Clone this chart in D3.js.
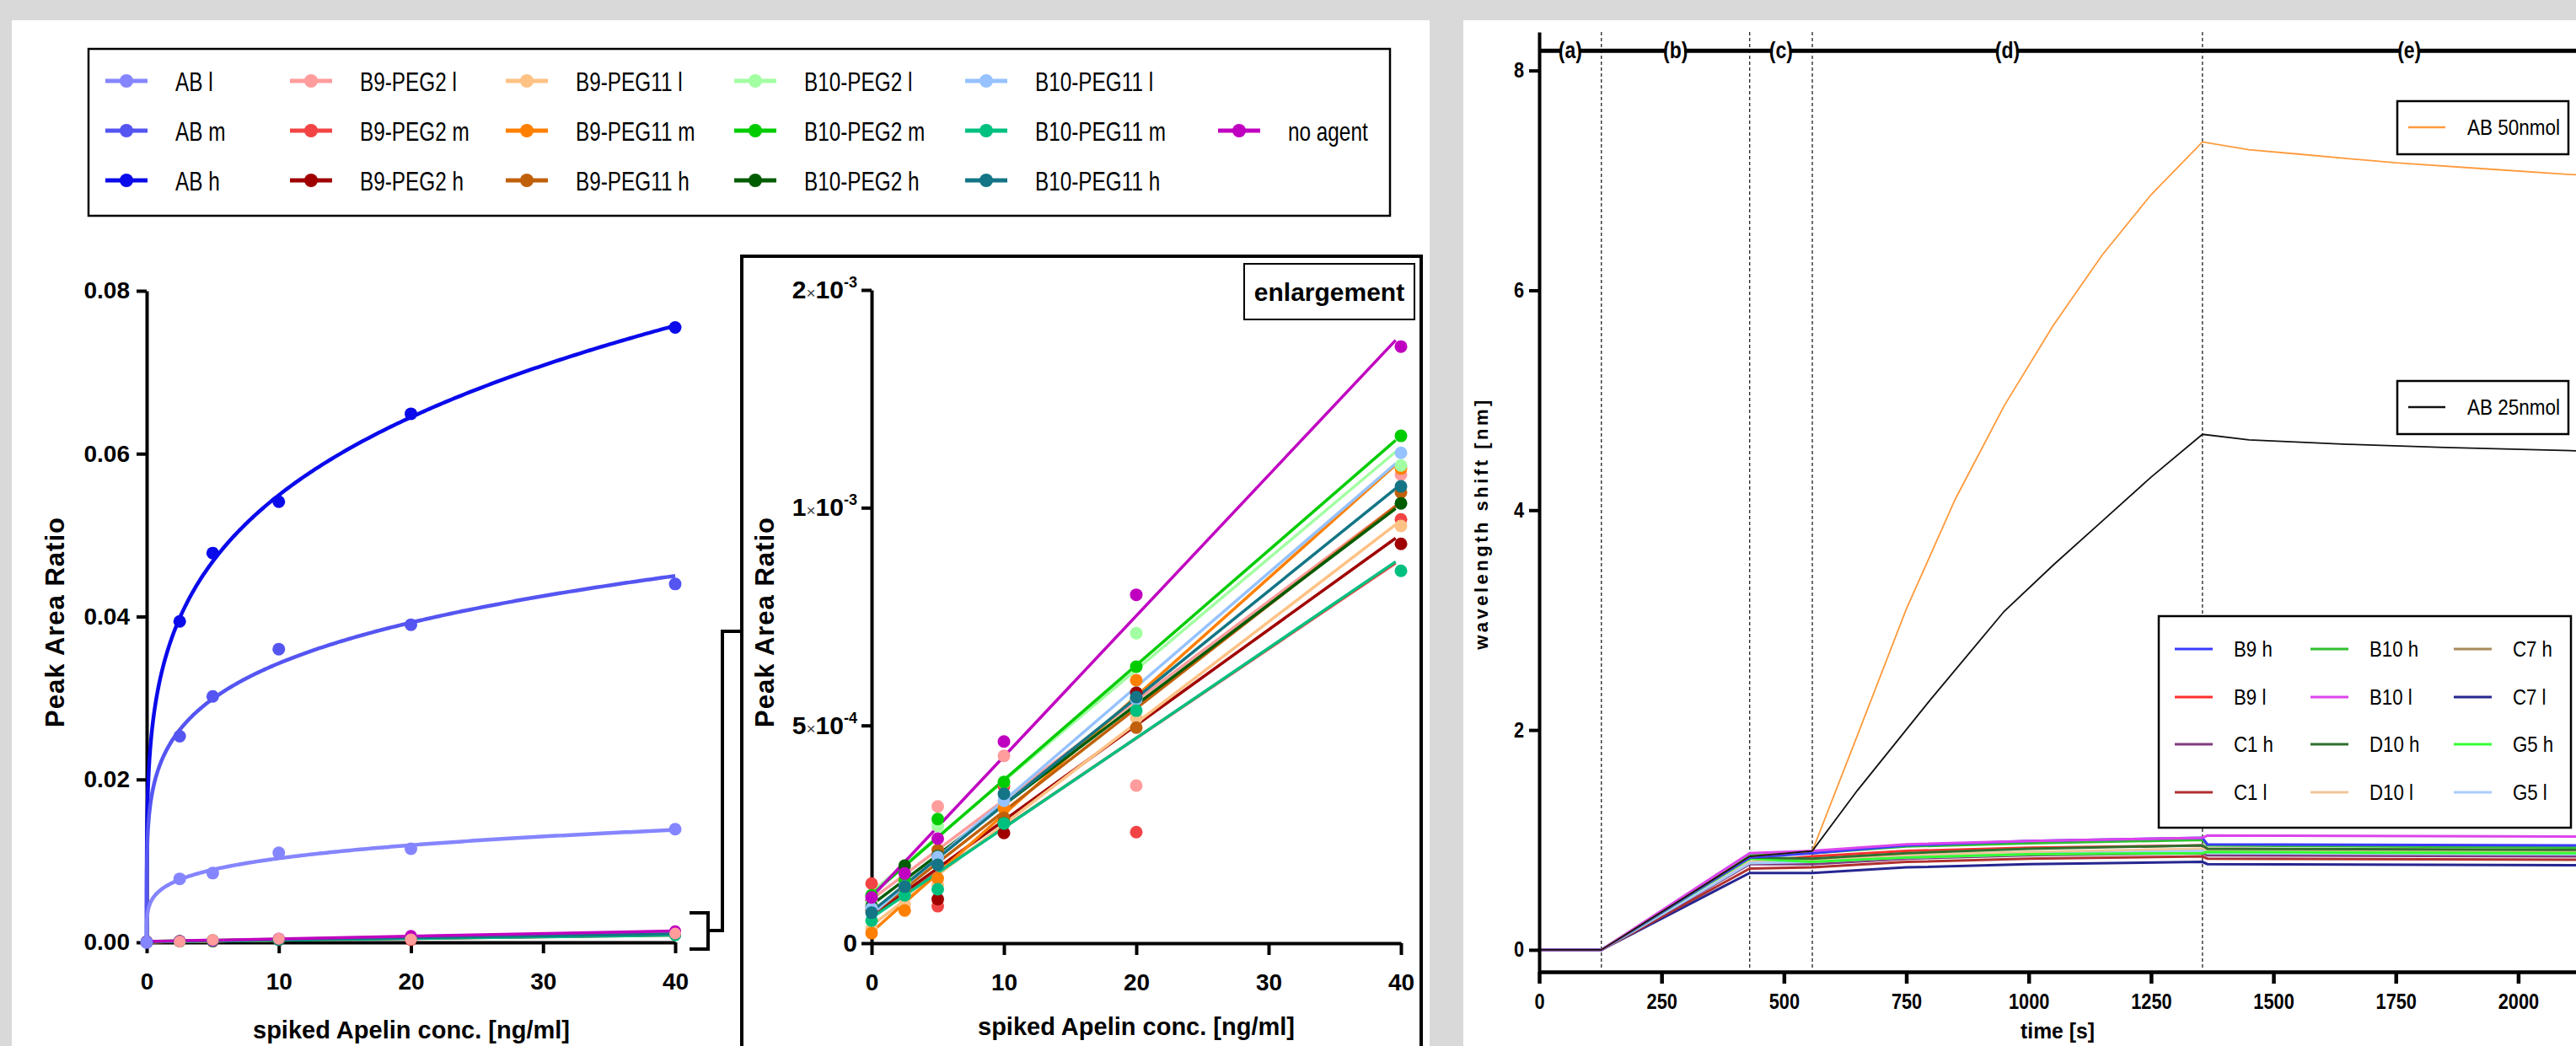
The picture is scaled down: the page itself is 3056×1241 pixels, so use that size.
<!DOCTYPE html>
<html>
<head>
<meta charset="utf-8">
<script src="https://cdn.jsdelivr.net/npm/d3@7"></script>
<style>
body { margin: 0; background: #d9d9d9; }
svg { display: block; font-family: "Liberation Sans", Arial, sans-serif; }
</style>
</head>
<body>
<div id="graph"></div>
<script>
// ---------- data: left panel ----------
const conc = [0, 2.5, 5, 10, 20, 40];

// Peak Area Ratio, AB standards
const abL = [0, 0.0078, 0.0085, 0.0110, 0.0115, 0.0139];
const abM = [0, 0.0253, 0.0302, 0.0360, 0.0390, 0.0440];
const abH = [0, 0.0394, 0.0478, 0.0541, 0.0649, 0.0755];

// Peak Area Ratio x 1e-4 (enlargement series)
const b9peg2L = [0.79, 1.10, 3.14, 4.30, 3.62, 10.76];
const b9peg2M = [1.37, 1.43, 0.85, 3.60, 2.55, 9.73];
const b9peg2H = [0.98, 1.30, 1.01, 2.53, 5.75, 9.17];
const b9peg11L = [0.33, 0.89, 1.35, 3.13, 5.17, 9.58];
const b9peg11M = [0.23, 0.75, 1.49, 3.10, 6.04, 10.90];
const b9peg11H = [0.75, 1.25, 2.14, 2.88, 4.95, 10.35];
const b10peg2L = [0.95, 1.40, 2.69, 3.69, 7.12, 10.97];
const b10peg2M = [1.10, 1.45, 2.85, 3.70, 6.35, 11.65];
const b10peg2H = [0.85, 1.78, 2.00, 2.75, 5.60, 10.10];
const b10peg11L = [0.80, 1.30, 1.98, 3.27, 5.60, 11.26];
const b10peg11M = [0.52, 1.10, 1.24, 2.75, 5.34, 8.55];
const b10peg11H = [0.70, 1.30, 1.80, 3.43, 5.65, 10.49];
const noAgent = [1.05, 1.60, 2.40, 4.63, 8.00, 13.70];

const seriesNames = ["AB l", "AB m", "AB h",
    "B9-PEG2 l", "B9-PEG2 m", "B9-PEG2 h",
    "B9-PEG11 l", "B9-PEG11 m", "B9-PEG11 h",
    "B10-PEG2 l", "B10-PEG2 m", "B10-PEG2 h",
    "B10-PEG11 l", "B10-PEG11 m", "B10-PEG11 h",
    "no agent"];
const seriesColors = ["#8585ff", "#5555f2", "#0a0aeb",
    "#ff9c9c", "#f24444", "#a00000",
    "#ffc285", "#ff8000", "#c0600a",
    "#a2ffa2", "#00cc00", "#005c00",
    "#96c2ff", "#00c080", "#137585",
    "#c000c0"];

const mainTicksY = [0, 0.02, 0.04, 0.06, 0.08];
const concTicks = [0, 10, 20, 30, 40];
const enlTicksY = [0, 0.0005, 0.001, 0.0015];
const enlTickLabels = ["0", "5×10^-4", "1×10^-3", "2×10^-3"];

// ---------- data: right panel ----------
const phaseTimes = [0, 127, 430, 558, 1355, 2200];
const phaseLabels = ["(a)", "(b)", "(c)", "(d)", "(e)"];
const timeTicks = [0, 250, 500, 750, 1000, 1250, 1500, 1750, 2000];
const shiftTicks = [0, 2, 4, 6, 8];

const traceTimes = [0, 127, 430, 558, 750, 1000, 1355, 1365, 2120];
const b9h = [0, 0, 0.84, 0.88, 0.95, 0.99, 1.02, 0.96, 0.95];
const b9l = [0, 0, 0.80, 0.85, 0.90, 0.93, 0.95, 0.92, 0.90];
const c1h = [0, 0, 0.78, 0.78, 0.83, 0.86, 0.88, 0.86, 0.85];
const c1l = [0, 0, 0.74, 0.75, 0.80, 0.83, 0.85, 0.83, 0.82];
const b10h = [0, 0, 0.86, 0.88, 0.94, 0.97, 1.00, 0.95, 0.93];
const b10l = [0, 0, 0.88, 0.90, 0.96, 0.99, 1.02, 1.04, 1.03];
const d10h = [0, 0, 0.84, 0.83, 0.88, 0.92, 0.95, 0.92, 0.91];
const d10l = [0, 0, 0.80, 0.82, 0.86, 0.89, 0.92, 0.90, 0.89];
const c7h = [0, 0, 0.80, 0.80, 0.85, 0.88, 0.90, 0.88, 0.87];
const c7l = [0, 0, 0.70, 0.70, 0.75, 0.78, 0.80, 0.78, 0.77];
const g5h = [0, 0, 0.83, 0.80, 0.84, 0.87, 0.88, 0.89, 0.88];
const g5l = [0, 0, 0.79, 0.80, 0.84, 0.87, 0.90, 0.88, 0.87];

const traceNames = ["B9 h", "B9 l", "C1 h", "C1 l", "B10 h", "B10 l", "D10 h", "D10 l", "C7 h", "C7 l", "G5 h", "G5 l"];
const traceColors = ["#3a3aff", "#ff3030", "#803a80", "#b03030", "#30c030", "#dc44ec", "#2f6f2f", "#f2c698", "#a88a5c", "#262690", "#33ff33", "#a8ccff"];

const ab50Times = [0, 127, 430, 558, 650, 750, 850, 950, 1050, 1150, 1250, 1355, 1450, 1550, 1750, 1950, 2120];
const ab50 = [0, 0, 0.85, 0.90, 1.95, 3.10, 4.10, 4.95, 5.68, 6.32, 6.87, 7.35, 7.28, 7.24, 7.16, 7.10, 7.05];
const ab25Times = [0, 127, 430, 558, 650, 800, 950, 1050, 1150, 1250, 1355, 1450, 1650, 1850, 2120];
const ab25 = [0, 0, 0.85, 0.90, 1.45, 2.28, 3.08, 3.50, 3.90, 4.30, 4.69, 4.64, 4.60, 4.57, 4.54];

// ---------- helpers ----------
function squeeze(sel, f) {
    sel.each(function() {
        let w = this.getComputedTextLength();
        d3.select(this).attr("textLength", w * f).attr("lengthAdjust", "spacingAndGlyphs");
    });
}

function linFit(xs, ys) {
    let mx = d3.mean(xs), my = d3.mean(ys);
    let sxy = d3.sum(xs, (x, i) => (x - mx) * (ys[i] - my));
    let sxx = d3.sum(xs, x => (x - mx) * (x - mx));
    let b = sxy / sxx;
    return { a: my - b * mx, b: b };
}

// y = a * x^b, fitted on log-log
function powerFit(xs, ys) {
    let lx = [], ly = [];
    xs.forEach((x, i) => { if (x > 0 && ys[i] > 0) { lx.push(Math.log(x)); ly.push(Math.log(ys[i])); } });
    let f = linFit(lx, ly);
    return { a: Math.exp(f.a), b: f.b };
}

function styleAxis(g, size, weight, width) {
    g.attr("font-family", null).attr("font-size", null);
    g.select(".domain").attr("stroke", "#000").attr("stroke-width", width);
    g.selectAll(".tick line").attr("stroke", "#000").attr("stroke-width", width);
    g.selectAll(".tick text").attr("font-size", size).attr("font-weight", weight).attr("fill", "#000");
}

let series = seriesNames.map((name, i) => ({
    name: name,
    color: seriesColors[i],
    values: i < 3 ? [abL, abM, abH][i] : [b9peg2L, b9peg2M, b9peg2H, b9peg11L, b9peg11M, b9peg11H,
        b10peg2L, b10peg2M, b10peg2H, b10peg11L, b10peg11M, b10peg11H, noAgent][i - 3].map(v => v * 1e-4)
}));
let abSeries = series.slice(0, 3);
let smallSeries = series.slice(3);

// ---------- svg ----------
let svg = d3.select("#graph")
    .append("svg")
    .attr("width", 3056)
    .attr("height", 1241);

svg.append("rect").attr("x", 14).attr("y", 24).attr("width", 1682).attr("height", 1217).attr("fill", "#fff");
svg.append("rect").attr("x", 1736).attr("y", 24).attr("width", 1320).attr("height", 1217).attr("fill", "#fff");

// ---------- left legend ----------
let legend = svg.append("g");
legend.append("rect")
    .attr("x", 105).attr("y", 58).attr("width", 1544).attr("height", 198)
    .attr("fill", "none").attr("stroke", "#000").attr("stroke-width", 2.5);

const legColX = [150, 369, 625, 896, 1170, 1470];
const legRowY = [96, 155, 214];

let legItems = legend.selectAll("g.item")
    .data(series)
    .enter()
    .append("g")
    .attr("class", "item")
    .attr("transform", (d, i) => {
        let col = i < 15 ? Math.floor(i / 3) : 5;
        let row = i < 15 ? i % 3 : 1;
        return `translate(${legColX[col]}, ${legRowY[row]})`;
    });

legItems.append("line")
    .attr("x1", -25).attr("x2", 25)
    .attr("stroke", d => d.color).attr("stroke-width", 5);
legItems.append("circle")
    .attr("r", 8).attr("fill", d => d.color);
legItems.append("text")
    .attr("x", 58).attr("y", 12)
    .style("font-size", "32px")
    .text(d => d.name)
    .call(squeeze, 0.76);

// ---------- main plot ----------
let xMain = d3.scaleLinear().domain([0, 40]).range([174, 801]);
let yMain = d3.scaleLinear().domain([0, 0.08]).range([1118, 345]);

let mainX = svg.append("g")
    .attr("transform", `translate(0, ${yMain(0)})`)
    .call(d3.axisBottom(xMain).tickValues(concTicks).tickSize(13).tickSizeOuter(0).tickPadding(23));
styleAxis(mainX, 28, "bold", 4);

let mainY = svg.append("g")
    .attr("transform", `translate(${xMain(0)}, 0)`)
    .call(d3.axisLeft(yMain).tickValues(mainTicksY).tickFormat(d3.format(".2f")).tickSize(12).tickSizeOuter(0).tickPadding(8));
styleAxis(mainY, 28, "bold", 4);

svg.append("text")
    .attr("transform", "translate(488, 1232)")
    .style("text-anchor", "middle")
    .style("font-size", "29px")
    .style("font-weight", "bold")
    .text("spiked Apelin conc. [ng/ml]");

svg.append("text")
    .attr("transform", "translate(76, 738)rotate(-90)")
    .style("text-anchor", "middle")
    .style("font-size", "31px")
    .style("font-weight", "bold")
    .style("letter-spacing", "1px")
    .text("Peak Area Ratio");

let mainLine = d3.line().x(d => xMain(d[0])).y(d => yMain(d[1]));

smallSeries.forEach(s => {
    let f = linFit(conc, s.values);
    svg.append("path")
        .attr("d", mainLine([[0, f.a], [40, f.a + 40 * f.b]]))
        .attr("fill", "none").attr("stroke", s.color).attr("stroke-width", 3.5);
});
[...smallSeries.slice(1), smallSeries[0]].forEach(s => {
    svg.append("g").selectAll("circle")
        .data(s.values)
        .enter()
        .append("circle")
        .attr("cx", (d, i) => xMain(conc[i]))
        .attr("cy", d => yMain(d))
        .attr("r", 7)
        .attr("fill", s.color);
});

let curveX = d3.range(0, 1.0001, 0.004).map(t => 40 * t * t);
abSeries.slice().reverse().forEach(s => {
    let f = powerFit(conc, s.values);
    svg.append("path")
        .attr("d", mainLine(curveX.map(x => [x, f.a * Math.pow(x, f.b)])))
        .attr("fill", "none").attr("stroke", s.color).attr("stroke-width", 4.5);
    svg.append("g").selectAll("circle")
        .data(s.values)
        .enter()
        .append("circle")
        .attr("cx", (d, i) => xMain(conc[i]))
        .attr("cy", d => yMain(d))
        .attr("r", 7.5)
        .attr("fill", s.color);
});

// bracket joining main plot to enlargement
let yb = yMain(0);
svg.append("path")
    .attr("d", `M818,${yb - 35}H840V${yb + 8}H818M840,${yb - 14}H857V749H880`)
    .attr("fill", "none").attr("stroke", "#000").attr("stroke-width", 4);

// ---------- enlargement ----------
svg.append("rect")
    .attr("x", 880).attr("y", 304).attr("width", 806).attr("height", 1000)
    .attr("fill", "none").attr("stroke", "#000").attr("stroke-width", 4);

let xEn = d3.scaleLinear().domain([0, 40]).range([1034, 1662]);
let yEn = d3.scaleLinear().domain([0, 0.0015]).range([1119, 344]);

let enX = svg.append("g")
    .attr("transform", `translate(0, ${yEn(0)})`)
    .call(d3.axisBottom(xEn).tickValues(concTicks).tickSize(14).tickSizeOuter(0).tickPadding(22));
styleAxis(enX, 28, "bold", 4);

let enY = svg.append("g")
    .attr("transform", `translate(${xEn(0)}, 0)`)
    .call(d3.axisLeft(yEn).tickValues(enlTicksY).tickFormat("").tickSize(12).tickSizeOuter(0).tickPadding(5));
styleAxis(enY, 30, "bold", 4);

enY.selectAll(".tick text").each(function(d, i) {
    let t = d3.select(this);
    let lab = enlTickLabels[i];
    if (lab.indexOf("×") < 0) {
        t.text(lab);
    } else {
        let parts = lab.split("×10^");
        t.append("tspan").text(parts[0]);
        t.append("tspan").attr("font-size", 19).attr("font-weight", "normal").attr("fill", "#444").text("×");
        t.append("tspan").text("10");
        t.append("tspan").attr("font-size", 18).attr("dy", -13).text(parts[1]);
    }
});

svg.append("text")
    .attr("transform", "translate(1348, 1228)")
    .style("text-anchor", "middle")
    .style("font-size", "29px")
    .style("font-weight", "bold")
    .text("spiked Apelin conc. [ng/ml]");

svg.append("text")
    .attr("transform", "translate(918, 738)rotate(-90)")
    .style("text-anchor", "middle")
    .style("font-size", "31px")
    .style("font-weight", "bold")
    .style("letter-spacing", "1px")
    .text("Peak Area Ratio");

svg.append("rect")
    .attr("x", 1476).attr("y", 313).attr("width", 202).attr("height", 66)
    .attr("fill", "#fff").attr("stroke", "#000").attr("stroke-width", 2);
svg.append("text")
    .attr("x", 1577).attr("y", 357)
    .style("text-anchor", "middle")
    .style("font-size", "30px")
    .style("font-weight", "bold")
    .text("enlargement");

let enLine = d3.line().x(d => xEn(d[0])).y(d => yEn(d[1]));
smallSeries.forEach(s => {
    let f = linFit(conc, s.values);
    svg.append("path")
        .attr("d", enLine([[0, f.a], [39.6, f.a + 39.6 * f.b]]))
        .attr("fill", "none").attr("stroke", s.color).attr("stroke-width", 3.5);
});
smallSeries.forEach(s => {
    svg.append("g").selectAll("circle")
        .data(s.values)
        .enter()
        .append("circle")
        .attr("cx", (d, i) => xEn(conc[i]))
        .attr("cy", d => yEn(d))
        .attr("r", 7.5)
        .attr("fill", s.color);
});

// ---------- right panel ----------
let xR = d3.scaleLinear().domain([0, 2250]).range([1826, 1826 + 2250 * 0.5807]);
let yR = d3.scaleLinear().domain([-0.2, 8.35]).range([1153, 38]);

// phase boundaries
svg.append("g").selectAll("line")
    .data(phaseTimes.slice(1, 5))
    .enter()
    .append("line")
    .attr("x1", d => xR(d)).attr("x2", d => xR(d))
    .attr("y1", 38).attr("y2", 1150)
    .attr("stroke", "#222").attr("stroke-width", 1.3)
    .attr("stroke-dasharray", "4,3");

let traces = traceNames.map((name, i) => ({
    name: name,
    color: traceColors[i],
    times: traceTimes,
    values: [b9h, b9l, c1h, c1l, b10h, b10l, d10h, d10l, c7h, c7l, g5h, g5l][i]
}));
let abTraces = [
    { name: "AB 50nmol", color: "#ff9a3c", times: ab50Times, values: ab50 },
    { name: "AB 25nmol", color: "#111111", times: ab25Times, values: ab25 }
];

let traceLine = d3.line().x(d => xR(d[0])).y(d => yR(d[1]));
[9, 3, 2, 1, 8, 7, 11, 10, 6, 4, 0, 5].forEach(i => {
    let t = traces[i];
    svg.append("path")
        .attr("d", traceLine(t.times.map((x, j) => [x, t.values[j]])))
        .attr("fill", "none").attr("stroke", t.color).attr("stroke-width", 3);
});
abTraces.forEach(t => {
    svg.append("path")
        .attr("d", traceLine(t.times.map((x, j) => [x, t.values[j]])))
        .attr("fill", "none").attr("stroke", t.color).attr("stroke-width", 1.8);
});

let rX = svg.append("g")
    .attr("transform", `translate(0, ${yR(-0.2)})`)
    .call(d3.axisBottom(xR).tickValues(timeTicks).tickFormat(d3.format("d")).tickSize(14).tickSizeOuter(0).tickPadding(12));
styleAxis(rX, 25, "bold", 4.5);
rX.selectAll(".tick text").call(squeeze, 0.87);

let rY = svg.append("g")
    .attr("transform", `translate(${xR(0)}, 0)`)
    .call(d3.axisLeft(yR).tickValues(shiftTicks).tickSize(12).tickSizeOuter(0).tickPadding(6));
styleAxis(rY, 25, "bold", 4);
rY.selectAll(".tick text").call(squeeze, 0.87);

svg.append("text")
    .attr("x", 2441).attr("y", 1232)
    .style("text-anchor", "middle")
    .style("font-size", "26px")
    .style("font-weight", "bold")
    .text("time [s]")
    .call(squeeze, 0.95);

svg.append("text")
    .attr("transform", "translate(1765, 621)rotate(-90)")
    .style("text-anchor", "middle")
    .style("font-size", "22px")
    .style("font-weight", "bold")
    .style("letter-spacing", "3.5px")
    .text("wavelength shift [nm]");

// phase bar
let phaseY = yR(8.18);
svg.append("line")
    .attr("x1", xR(0)).attr("x2", 3056)
    .attr("y1", phaseY).attr("y2", phaseY)
    .attr("stroke", "#000").attr("stroke-width", 5);

let phases = svg.append("g").selectAll("g")
    .data(phaseLabels)
    .enter()
    .append("g")
    .attr("transform", (d, i) => `translate(${xR((phaseTimes[i] + phaseTimes[i + 1]) / 2)}, ${phaseY})`);
let phaseBg = phases.append("rect").attr("fill", "#fff");
let phaseText = phases.append("text")
    .attr("y", 9)
    .style("text-anchor", "middle")
    .style("font-size", "27px")
    .style("font-weight", "bold")
    .text(d => d)
    .call(squeeze, 0.85);
phaseText.each(function(d, i) {
    let w = this.getComputedTextLength() * 0.85;
    d3.select(phaseBg.nodes()[i])
        .attr("x", -w / 2 + 2).attr("y", -14).attr("width", w - 4).attr("height", 28);
});

// AB legends
abTraces.forEach((t, i) => {
    let top = [120, 452][i];
    let g = svg.append("g");
    g.append("rect")
        .attr("x", 2844).attr("y", top).attr("width", 203).attr("height", 63)
        .attr("fill", "#fff").attr("stroke", "#000").attr("stroke-width", 2.5);
    g.append("line")
        .attr("x1", 2857).attr("x2", 2901).attr("y1", top + 31).attr("y2", top + 31)
        .attr("stroke", t.color).attr("stroke-width", 2.5);
    g.append("text")
        .attr("x", 2927).attr("y", top + 40)
        .style("font-size", "25px")
        .text(t.name)
        .call(squeeze, 0.9);
});

// trace legend
let tl = svg.append("g");
tl.append("rect")
    .attr("x", 2561).attr("y", 731).attr("width", 489).attr("height", 251)
    .attr("fill", "#fff").attr("stroke", "#000").attr("stroke-width", 2.5);
const tlColX = [2580, 2741, 2911];
const tlRowY = [770, 827, 883, 940];
let tlItems = tl.selectAll("g.item")
    .data(traces)
    .enter()
    .append("g")
    .attr("class", "item")
    .attr("transform", (d, i) => `translate(${tlColX[Math.floor(i / 4)]}, ${tlRowY[i % 4]})`);
tlItems.append("line")
    .attr("x1", 0).attr("x2", 45)
    .attr("stroke", d => d.color).attr("stroke-width", 3);
tlItems.append("text")
    .attr("x", 70).attr("y", 9)
    .style("font-size", "25px")
    .text(d => d.name)
    .call(squeeze, 0.89);
</script>
</body>
</html>
